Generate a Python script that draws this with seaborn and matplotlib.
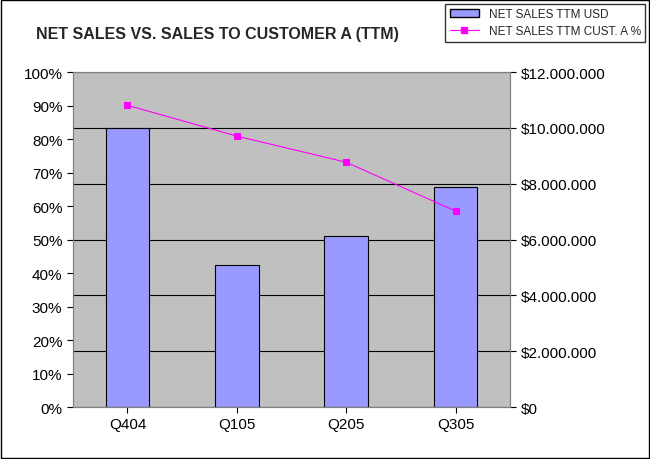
import numpy as np
import pandas as pd
import matplotlib.pyplot as plt
import matplotlib.ticker as mticker
import seaborn as sns

quarters = ["Q404", "Q105", "Q205", "Q305"]
net_sales_usd = [10000000, 5090000, 6130000, 7880000]
cust_a_pct = [90.1, 80.9, 73.1, 58.5]

df = pd.DataFrame({"quarter": quarters, "usd": net_sales_usd, "pct": cust_a_pct})

sns.set_style("white")
plt.rcParams["font.family"] = "Liberation Sans"

fig = plt.figure(figsize=(6.5, 4.6), dpi=100)
ax = fig.add_axes([0.112, 0.113, 0.673, 0.728])
ax2 = ax.twinx()
ax.set_zorder(ax2.get_zorder() + 1)
ax.patch.set_visible(False)
ax2.set_facecolor("#C0C0C0")
ax2.patch.set_visible(True)

# bars on right axis
ax2.bar(np.arange(4), df["usd"], width=0.4, color="#9999FF", edgecolor="black", linewidth=0.8)
ax2.set_ylim(0, 12000000)
ax2.yaxis.set_major_locator(mticker.MultipleLocator(2000000))
ax2.yaxis.set_major_formatter(mticker.FuncFormatter(lambda v, p: "$" + f"{int(v):,}".replace(",", ".")))
ax2.grid(axis="y", color="black", linewidth=0.8)
ax2.set_axisbelow(True)

# line on left axis
sns.lineplot(x=np.arange(4), y=df["pct"], ax=ax, color="#FF00FF", marker="s",
             markersize=4, markeredgecolor="#FF00FF", linewidth=0.8)
ax.set_ylim(0, 100)
ax.set_xlim(-0.5, 3.5)
ax.yaxis.set_major_locator(mticker.MultipleLocator(10))
ax.yaxis.set_major_formatter(mticker.FuncFormatter(lambda v, p: f"{int(v)}%"))
ax.set_xticks(np.arange(4))
ax.set_xticklabels(quarters)
ax.set_xlabel("")
ax.set_ylabel("")
ax.grid(False)

for a in (ax, ax2):
    a.tick_params(labelsize=11, length=4, direction="out", colors="black")
    for s in a.spines.values():
        s.set_color("#808080")
        s.set_linewidth(0.8)
ax.tick_params(axis="both", left=True, bottom=True)
ax2.tick_params(axis="y", right=True)

fig.text(0.055, 0.925, "NET SALES VS. SALES TO CUSTOMER A (TTM)", fontsize=11.5,
         fontweight="bold", va="center")

from matplotlib.patches import Patch
from matplotlib.lines import Line2D
handles = [Patch(facecolor="#9999FF", edgecolor="black", label="NET SALES TTM USD"),
           Line2D([], [], color="#FF00FF", marker="s", markersize=4, linewidth=0.8,
                  label="NET SALES TTM CUST. A %")]
leg = fig.legend(handles=handles, loc="upper right", bbox_to_anchor=(0.993, 0.99),
                 fontsize=8.5, frameon=True, fancybox=False, borderaxespad=0,
                 handlelength=2.5, labelspacing=0.4)
leg.get_frame().set_edgecolor("black")

fig.patches.append(plt.Rectangle((0.002, 0.002), 0.996, 0.996, transform=fig.transFigure,
                                 fill=False, edgecolor="black", linewidth=1))
fig.savefig("out.png", dpi=100)
